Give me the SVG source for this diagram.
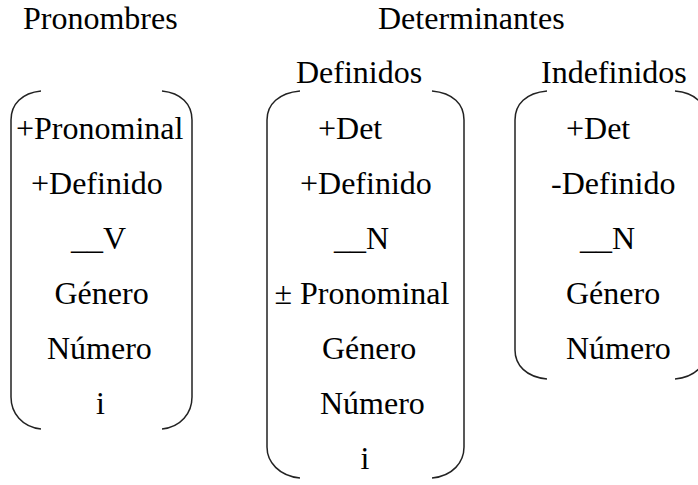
<svg xmlns="http://www.w3.org/2000/svg" width="698" height="485" viewBox="0 0 698 485">
<style>
.t{font-size:32px;fill:#000}
.br{fill:none;stroke:#222;stroke-width:1.5}
</style>
<rect width="698" height="485" fill="#fff"/>
<g font-family="'Liberation Serif', 'Times New Roman', serif" class="t">
<g id="headers">
<text x="23" y="29">Pronombres</text>
<text x="378" y="29">Determinantes</text>
</g>
<g id="pronombres">
<path class="br" d="M41 91C22 93 11 104 11 120V397C11 413 22 427 41 429"/>
<path class="br" d="M162 91C181 93 192 104 192 120V397C192 413 181 427 162 429"/>
<text x="16" y="139">+Pronominal</text>
<text x="31" y="194">+Definido</text>
<text x="71" y="249">__V</text>
<text x="54.5" y="304">Género</text>
<text x="47" y="359">Número</text>
<text x="96" y="414">i</text>
</g>
<g id="definidos">
<text x="296" y="83">Definidos</text>
<path class="br" d="M300 91C279 93 267 104 267 120V447C267 462 279 476 300 478"/>
<path class="br" d="M432 91C453 93 464 104 464 120V447C464 462 453 476 432 478"/>
<text x="318" y="139">+Det</text>
<text x="300" y="194">+Definido</text>
<text x="334" y="249">__N</text>
<text x="274.5" y="304">± Pronominal</text>
<text x="322" y="359">Género</text>
<text x="320" y="414">Número</text>
<text x="360.5" y="469">i</text>
</g>
<g id="indefinidos">
<text x="541" y="83">Indefinidos</text>
<path class="br" d="M547 91C526 93 515 104 515 120V350C515 365 526 377 547 379"/>
<path class="br" d="M675 91C696 93 706 104 706 120V350C706 365 696 377 675 379"/>
<text x="566" y="139">+Det</text>
<text x="551" y="194">-Definido</text>
<text x="580" y="249">__N</text>
<text x="566" y="304">Género</text>
<text x="566" y="359">Número</text>
</g>
</g>
</svg>
